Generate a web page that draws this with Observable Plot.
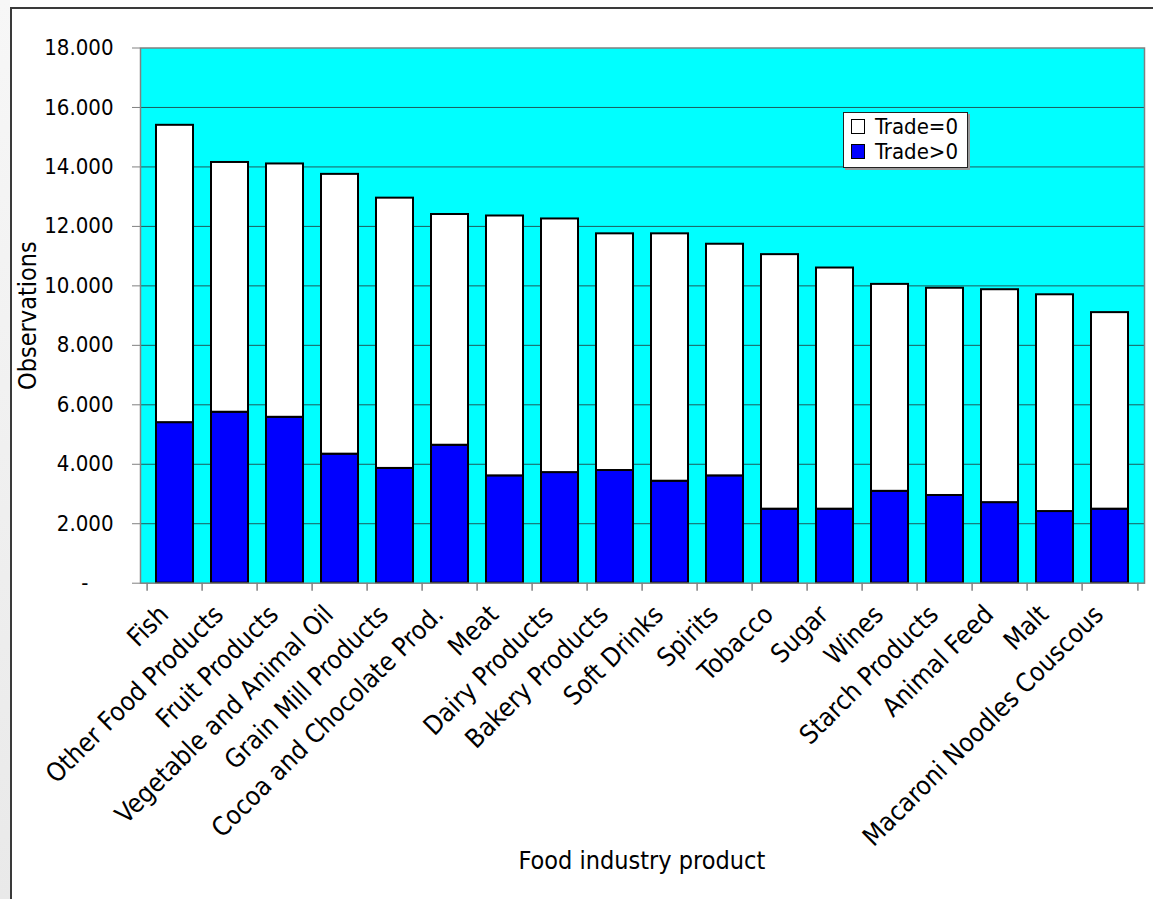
<!DOCTYPE html>
<html>
<head>
<meta charset="utf-8">
<script src="https://cdn.jsdelivr.net/npm/d3@7"></script>
<script src="https://cdn.jsdelivr.net/npm/@observablehq/plot@0.6"></script>
<style>
  html, body { margin: 0; padding: 0; }
  body {
    width: 1153px; height: 899px; overflow: hidden; position: relative; background: #fff;
    font-family: "DejaVu Sans Condensed", "DejaVu Sans", sans-serif;
  }
  #gutter { position: absolute; left: 0; top: 0; width: 10px; height: 899px;
    background: linear-gradient(#f7f7f7, #e9e9e9); }
  #sheet { position: absolute; left: 10px; top: 7px; width: 1200px; height: 950px;
    background: #fff; border-left: 2px solid #3a3a3a; border-top: 2px solid #3a3a3a; }
  #chart { position: absolute; left: 0; top: 0; }
  #legend { position: absolute; left: 843px; top: 112px; width: 125px; height: 56px;
    background: #fff; border: 1px solid #222; box-shadow: 2px 2px 0 #9a9a9a;
    font-size: 22px; color: #000; box-sizing: border-box; }
  .row { position: absolute; left: 7px; display: flex; align-items: center; height: 26px; }
  .sw { width: 12px; height: 13px; border: 1.5px solid #000; margin-right: 10px; box-sizing: content-box; }
  .title { position: absolute; font-size: 25px; color: #000; white-space: nowrap; }
</style>
</head>
<body>
<div id="gutter"></div>
<div id="sheet"></div>
<div id="chart"></div>
<div id="legend"></div>
<div class="title" id="xtitle">Food industry product</div>
<script>
// Products, ordered by total number of observations
const categories = [
  "Fish", "Other Food Products", "Fruit Products", "Vegetable and Animal Oil",
  "Grain Mill Products", "Cocoa and Chocolate Prod.", "Meat", "Dairy Products",
  "Bakery Products", "Soft Drinks", "Spirits", "Tobacco", "Sugar", "Wines",
  "Starch Products", "Animal Feed", "Malt", "Macaroni Noodles Couscous"
];
// Total observations per product (Trade=0 plus Trade>0)
const totals = [
  15400, 14150, 14100, 13750, 12950, 12400, 12350, 12250,
  11750, 11750, 11400, 11050, 10600, 10050, 9920, 9870, 9700, 9100
];
// Observations with positive trade
const tradePositive = [
  5400, 5750, 5580, 4340, 3860, 4640, 3610, 3720,
  3790, 3430, 3610, 2490, 2490, 3090, 2950, 2710, 2410, 2490
];
const yTicks = [0, 2000, 4000, 6000, 8000, 10000, 12000, 14000, 16000, 18000];
const seriesNames = ["Trade=0", "Trade>0"];
const seriesColors = ["#ffffff", "#0000ff"];

const rows = categories.map((product, i) => ({
  product, total: totals[i], positive: tradePositive[i]
}));

const W = 1153, H = 899;
const mLeft = 140, mRight = 9, mTop = 47.5, mBottom = 316.3;
const plotH = H - mTop - mBottom;
const step = (W - mLeft - mRight) / categories.length;
const font = '"DejaVu Sans Condensed", "DejaVu Sans", sans-serif';

// 18000 -> "18.000", 0 -> "-"
const fmt = v => v === 0 ? "-\u2007\u2007" : d3.format(",")(v).replace(/,/g, ".");

const chart = Plot.plot({
  width: W, height: H,
  marginLeft: mLeft, marginRight: mRight, marginTop: mTop, marginBottom: mBottom,
  style: { fontFamily: font, fontSize: "20px", color: "#000", background: "transparent", overflow: "visible" },
  x: { domain: categories, paddingInner: 0.32, paddingOuter: 0.16, label: null, axis: null },
  y: { domain: [0, 18000], label: null },
  marks: [
    Plot.frame({ fill: "#00ffff", stroke: null }),
    Plot.ruleY(yTicks.filter(v => v > 0 && v < 18000), { y: d => d, stroke: "#1d5c5c", strokeWidth: 1 }),
    Plot.barY(rows, { x: "product", y1: 0, y2: "positive", fill: seriesColors[1], stroke: "#000", strokeWidth: 2 }),
    Plot.barY(rows, { x: "product", y1: "positive", y2: "total", fill: seriesColors[0], stroke: "#000", strokeWidth: 2 }),
    Plot.frame({ stroke: "#808080", strokeWidth: 1.5 }),
    Plot.axisY({ ticks: yTicks, tickSize: 8, tickPadding: 19, stroke: "#808080", tickFormat: fmt, label: null, fontSize: 22 }),
    // category boundary ticks under the axis
    Plot.ruleX(categories, { x: d => d, dx: -step / 2, insetTop: plotH, insetBottom: -8, stroke: "#808080", strokeWidth: 1.5 }),
    Plot.ruleX(categories.slice(-1), { x: d => d, dx: step / 2, insetTop: plotH, insetBottom: -8, stroke: "#808080", strokeWidth: 1.5 }),
    // slanted category labels ending under each bar
    Plot.text(categories, { x: d => d, frameAnchor: "bottom", text: d => d, rotate: -45,
      textAnchor: "end", lineAnchor: "middle", dx: -11, dy: 27, fontSize: 26 }),
    Plot.text(["Observations"], { frameAnchor: "left", dx: -113, rotate: -90,
      textAnchor: "middle", lineAnchor: "middle", fontSize: 25 })
  ]
});
document.getElementById("chart").appendChild(chart);

// legend
const legend = document.getElementById("legend");
seriesNames.forEach((name, i) => {
  const row = document.createElement("div");
  row.className = "row";
  row.style.top = (i * 25) + "px";
  const sw = document.createElement("span");
  sw.className = "sw";
  sw.style.background = seriesColors[i];
  const label = document.createElement("span");
  label.textContent = name;
  row.appendChild(sw); row.appendChild(label);
  legend.appendChild(row);
});

// axis title centred under the plot area
const xt = document.getElementById("xtitle");
xt.style.left = ((mLeft + W - mRight) / 2 - xt.offsetWidth / 2) + "px";
xt.style.top = (860 - xt.offsetHeight / 2) + "px";
</script>
</body>
</html>
